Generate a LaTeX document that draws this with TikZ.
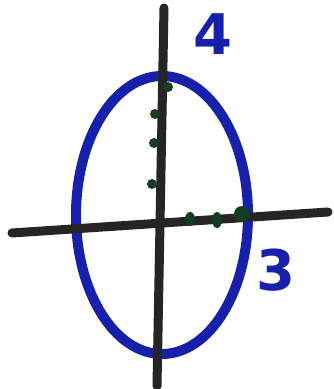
\documentclass[tikz,border=0pt]{standalone}
\usepackage{fontspec}
\setmainfont{DejaVu Sans}
\begin{document}
\begin{tikzpicture}[x=1pt,y=-1pt,
  curve/.style={draw={rgb,255:red,22;green,32;blue,170},line width=10pt},
  axis/.style={draw={rgb,255:red,38;green,36;blue,36},line width=9pt,line cap=round},
  tick/.style={fill={rgb,255:red,22;green,60;blue,35}},
  lbl/.style={text={rgb,255:red,22;green,32;blue,170},font=\fontsize{56}{56}\selectfont\bfseries,inner sep=0pt}]
\useasboundingbox (0,0) rectangle (334,389);
\fill[white] (0,0) rectangle (334,389);
% ellipse
\draw[curve] (162,215) ellipse [x radius=86, y radius=139];
% axes
\coordinate (vt) at (164,8);
\coordinate (vb) at (157,386);
\coordinate (hl) at (12,233);
\coordinate (hr) at (328,212);
\draw[axis] (vt) -- (vb);
\draw[axis] (hl) -- (hr);
% ticks on vertical axis
\fill[tick] (168,87) circle (5);
\fill[tick] (155,114) circle (5);
\fill[tick] (154,143) circle (5);
\fill[tick] (152,184) circle (5);
% ticks on horizontal axis
\fill[tick] (190,219) ellipse [x radius=5, y radius=7];
\fill[tick] (217,220) ellipse [x radius=5, y radius=8];
\fill[tick] (242,214) ellipse [x radius=8, y radius=8];
% labels
\node[lbl] (four) at (213,34) {4};
\node[lbl] (three) at (276,270) {3};
\end{tikzpicture}
\end{document}
